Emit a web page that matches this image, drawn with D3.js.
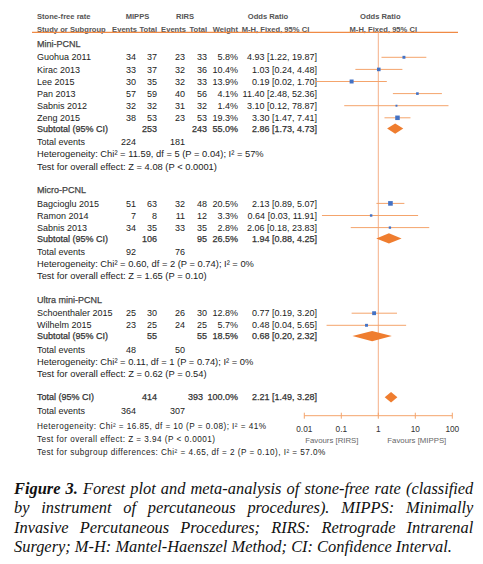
<!DOCTYPE html>
<html><head><meta charset="utf-8">
<script src="https://cdn.jsdelivr.net/npm/d3@7/dist/d3.min.js"></script>
<style>
html,body{margin:0;padding:0;background:#fff;}
svg{display:block;}
text{font-family:"Liberation Sans",Arial,sans-serif;}
text.cap{font-family:"Liberation Serif","Times New Roman",serif;font-style:italic;}
</style></head><body>
<svg id="chart" width="483" height="564"></svg>
<script>
// ---------- DATA ----------
const subgroupNames = ["Mini-PCNL", "Micro-PCNL", "Ultra mini-PCNL"];
const studyNames = ["Guohua 2011","Kirac 2013","Lee 2015","Pan 2013","Sabnis 2012","Zeng 2015",
                    "Bagcioglu 2015","Ramon 2014","Sabnis 2013",
                    "Schoenthaler 2015","Wilhelm 2015"];
const studyGroup   = [0,0,0,0,0,0, 1,1,1, 2,2];
const mippsEvents  = [34,33,30,57,32,38, 51,7,34, 25,23];
const mippsTotal   = [37,37,35,59,32,53, 63,8,35, 30,25];
const rirsEvents   = [23,32,32,40,31,23, 32,11,33, 26,24];
const rirsTotal    = [33,36,33,56,32,53, 48,12,35, 30,25];
const weights      = [5.8,10.4,13.9,4.1,1.4,19.3, 20.5,3.3,2.8, 12.8,5.7];
const orValues     = [4.93,1.03,0.19,11.40,3.10,3.30, 2.13,0.64,2.06, 0.77,0.48];
const ciLow        = [1.22,0.24,0.02,2.48,0.12,1.47, 0.89,0.03,0.18, 0.19,0.04];
const ciHigh       = [19.87,4.48,1.70,52.36,78.87,7.41, 5.07,11.91,23.83, 3.20,5.65];

const subMippsTotal  = [253,106,55];
const subRirsTotal   = [243,95,55];
const subWeight      = [55.0,26.5,18.5];
const subOR          = [2.86,1.94,0.68];
const subLow         = [1.73,0.88,0.20];
const subHigh        = [4.73,4.25,2.32];
const subEventsMipps = [224,92,48];
const subEventsRirs  = [181,76,50];
const subHet = ["Heterogeneity: Chi\u00b2 = 11.59, df = 5 (P = 0.04); I\u00b2 = 57%",
                "Heterogeneity: Chi\u00b2 = 0.60, df = 2 (P = 0.74); I\u00b2 = 0%",
                "Heterogeneity: Chi\u00b2 = 0.11, df = 1 (P = 0.74); I\u00b2 = 0%"];
const subTest = ["Test for overall effect: Z = 4.08 (P < 0.0001)",
                 "Test for overall effect: Z = 1.65 (P = 0.10)",
                 "Test for overall effect: Z = 0.62 (P = 0.54)"];

const totalMipps = 414, totalRirs = 393, totalWeight = 100.0;
const totalOR = 2.21, totalLow = 1.49, totalHigh = 3.28;
const totalEventsMipps = 364, totalEventsRirs = 307;
const footerTexts = ["Heterogeneity: Chi\u00b2 = 16.85, df = 10 (P = 0.08); I\u00b2 = 41%",
                     "Test for overall effect: Z = 3.94 (P < 0.0001)",
                     "Test for subgroup differences: Chi\u00b2 = 4.65, df = 2 (P = 0.10), I\u00b2 = 57.0%"];

const axisTicks = [0.01, 0.1, 1, 10, 100];
const axisTickLabels = ["0.01", "0.1", "1", "10", "100"];
const favoursLabels = ["Favours [RIRS]", "Favours [MIPPS]"];

const captionLines = [
  [{t:"Figure 3.", b:true}, {t:"Forest plot and meta-analysis of stone-free rate (classified"}],
  [{t:"by instrument of percutaneous procedures). MIPPS: Minimally"}],
  [{t:"Invasive Percutaneous Procedures; RIRS: Retrograde Intrarenal"}],
  [{t:"Surgery; M-H: Mantel-Haenszel Method; CI: Confidence Interval."}]
];

// ---------- LAYOUT ----------
const svg = d3.select("#chart");
const x = d3.scaleLog().domain([0.01, 100]).range([304.3, 452.3]);
const col = {label:37, mE:136, mT:157, rE:185, rT:207, w:238, or:317};
const fmt2 = d3.format(".2f");
const fmtW = d3.format(".1f");
const textCol = "#222", headCol = "#555", subCol = "#333";
const orange = "#ef7d2f", lineOrange = "#f4a46c", blue = "#4472c4";

const rows = [];
let y = 44;
subgroupNames.forEach((g, gi) => {
  rows.push({type:"heading", y, text:g});
  y += 13.3;
  const idx = studyNames.map((_, i) => i).filter(i => studyGroup[i] === gi);
  idx.forEach((i, k) => { rows.push({type:"study", y, i}); if (k < idx.length - 1) y += 12.1; });
  y += 10.8;
  rows.push({type:"subtotal", y, gi});
  y += 13.5;
  rows.push({type:"events", y, m:subEventsMipps[gi], r:subEventsRirs[gi]});
  y += 11.8;
  rows.push({type:"note", y, text:subHet[gi], size:9.35});
  y += 12.4;
  rows.push({type:"note", y, text:subTest[gi], size:9.35});
  y += 23.8;
});
y -= 0.3;
rows.push({type:"total", y});
y += 13.8;
rows.push({type:"events", y, m:totalEventsMipps, r:totalEventsRirs});
y += 15.3;
footerTexts.forEach(t => { rows.push({type:"foot", y, text:t}); y += 12.7; });

const yTop = 32.3, yAxis = 415.7;

// ---------- HEADER ----------
const hdr = svg.append("g").attr("font-size", 7.6).attr("font-weight", "bold").attr("fill", headCol);
function ht(tx, ty, s, anchor) {
  hdr.append("text").attr("x", tx).attr("y", ty).attr("dy", "0.35em").attr("text-anchor", anchor).text(s);
}
ht(col.label, 16.7, "Stone-free rate", "start");
ht((col.mE + col.mT) / 2 - 9, 16.7, "MIPPS", "middle");
ht((col.rE + col.rT) / 2 - 11, 16.7, "RIRS", "middle");
ht(268, 16.7, "Odds Ratio", "middle");
ht(x(1) + 2, 16.7, "Odds Ratio", "middle");
ht(col.label, 29, "Study or Subgroup", "start");
ht(col.mE + 1, 29, "Events", "end");
ht(col.mT, 29, "Total", "end");
ht(col.rE + 1, 29, "Events", "end");
ht(col.rT, 29, "Total", "end");
ht(col.w, 29, "Weight", "end");
ht(275.5, 29, "M-H, Fixed, 95% CI", "middle");
ht(x(1) + 5, 29, "M-H, Fixed, 95% CI", "middle");

svg.append("line").attr("x1", 32).attr("x2", 458).attr("y1", yTop).attr("y2", yTop)
  .attr("stroke", "#f08a45").attr("stroke-width", 1.2);

// ---------- NULL LINE & AXIS ----------
svg.append("line").attr("x1", x(1)).attr("x2", x(1)).attr("y1", yTop).attr("y2", yAxis)
  .attr("stroke", "#f6b088").attr("stroke-width", 1);

const axisG = svg.append("g").attr("transform", `translate(0,${yAxis})`);
axisG.append("line").attr("x1", x(0.01)).attr("x2", x(100)).attr("stroke", lineOrange).attr("stroke-width", 1);
axisG.selectAll(".tk").data(axisTicks).join("line")
  .attr("x1", d => x(d)).attr("x2", d => x(d)).attr("y1", -3).attr("y2", 3)
  .attr("stroke", lineOrange).attr("stroke-width", 1);
axisG.selectAll(".tl").data(axisTicks).join("text")
  .attr("x", d => x(d)).attr("y", 13.6).attr("dy", "0.35em").attr("text-anchor", "middle")
  .attr("font-size", 8.3).attr("fill", "#333").text((d, i) => axisTickLabels[i]);
axisG.append("text").attr("x", (x(0.01) + x(1)) / 2 - 9.5).attr("y", 24.3).attr("dy", "0.35em")
  .attr("text-anchor", "middle").attr("font-size", 7.8).attr("fill", "#666").text(favoursLabels[0]);
axisG.append("text").attr("x", (x(1) + x(100)) / 2 + 1.5).attr("y", 24.3).attr("dy", "0.35em")
  .attr("text-anchor", "middle").attr("font-size", 7.8).attr("fill", "#666").text(favoursLabels[1]);

// ---------- ROWS ----------
const body = svg.append("g");
function tx(xx, yy, s, anchor, opts = {}) {
  const t = body.append("text").attr("x", xx).attr("y", yy).attr("dy", "0.35em")
    .attr("text-anchor", anchor).attr("font-size", opts.size || 9)
    .attr("fill", opts.fill || textCol).text(s);
  if (opts.semi) t.attr("stroke", opts.fill || textCol).attr("stroke-width", 0.25);
  return t;
}
function diamond(yy, or, lo, hi) {
  const p = d3.path();
  p.moveTo(x(lo), yy); p.lineTo(x(or), yy - 5.2); p.lineTo(x(hi), yy); p.lineTo(x(or), yy + 5.2); p.closePath();
  body.append("path").attr("d", p.toString()).attr("fill", orange);
}
const sub = {semi:true, fill:subCol};

rows.forEach(r => {
  if (r.type === "heading") {
    tx(col.label, r.y, r.text, "start", {semi:true, fill:"#444"});
  } else if (r.type === "study") {
    const i = r.i;
    tx(col.label, r.y, studyNames[i], "start");
    tx(col.mE, r.y, mippsEvents[i], "end");
    tx(col.mT, r.y, mippsTotal[i], "end");
    tx(col.rE, r.y, rirsEvents[i], "end");
    tx(col.rT, r.y, rirsTotal[i], "end");
    tx(col.w, r.y, fmtW(weights[i]) + "%", "end");
    tx(col.or, r.y, `${fmt2(orValues[i])} [${fmt2(ciLow[i])}, ${fmt2(ciHigh[i])}]`, "end");
    body.append("line").attr("x1", x(ciLow[i])).attr("x2", x(ciHigh[i]))
      .attr("y1", r.y).attr("y2", r.y).attr("stroke", lineOrange).attr("stroke-width", 1);
    const s = 1 + Math.sqrt(weights[i]) * 0.8;
    body.append("rect").attr("x", x(orValues[i]) - s / 2).attr("y", r.y - s / 2)
      .attr("width", s).attr("height", s).attr("fill", blue);
  } else if (r.type === "subtotal") {
    const g = r.gi;
    tx(col.label, r.y, "Subtotal (95% CI)", "start", sub);
    tx(col.mT, r.y, subMippsTotal[g], "end", sub);
    tx(col.rT, r.y, subRirsTotal[g], "end", sub);
    tx(col.w, r.y, fmtW(subWeight[g]) + "%", "end", sub);
    tx(col.or, r.y, `${fmt2(subOR[g])} [${fmt2(subLow[g])}, ${fmt2(subHigh[g])}]`, "end", sub);
    diamond(r.y, subOR[g], subLow[g], subHigh[g]);
  } else if (r.type === "events") {
    tx(col.label, r.y, "Total events", "start");
    tx(col.mE, r.y, r.m, "end");
    tx(col.rE, r.y, r.r, "end");
  } else if (r.type === "note") {
    tx(col.label, r.y, r.text, "start", {size:r.size});
  } else if (r.type === "total") {
    tx(col.label, r.y, "Total (95% CI)", "start", sub);
    tx(col.mT, r.y, totalMipps, "end", sub);
    tx(col.rT - 4, r.y, totalRirs, "end", sub);
    tx(col.w, r.y, fmtW(totalWeight) + "%", "end", sub);
    tx(col.or, r.y, `${fmt2(totalOR)} [${fmt2(totalLow)}, ${fmt2(totalHigh)}]`, "end", sub);
    diamond(r.y, totalOR, totalLow, totalHigh);
  } else if (r.type === "foot") {
    tx(col.label, r.y, r.text, "start", {size:8.2}).attr("letter-spacing", 0.45);
  }
});

// ---------- CAPTION (justified) ----------
const cap = svg.append("g").attr("font-size", 16.4).attr("fill", "#111");
const capLeft = 14, capRight = 473.3, capY0 = 488.3, capStep = 19.45;
const probe = cap.append("text").attr("class", "cap").text("a a");
const probe2 = cap.append("text").attr("class", "cap").text("aa");
const spaceW = probe.node().getComputedTextLength() - probe2.node().getComputedTextLength();
probe.remove(); probe2.remove();
captionLines.forEach((segs, li) => {
  const words = [];
  segs.forEach(sg => sg.t.split(" ").forEach(w => words.push({w, b:!!sg.b})));
  const els = words.map(wd => cap.append("text").attr("class", "cap")
    .attr("y", capY0 + li * capStep).attr("dy", "0.35em")
    .attr("font-weight", wd.b ? "bold" : "normal").text(wd.w));
  const widths = els.map(e => e.node().getComputedTextLength());
  const sum = d3.sum(widths);
  const last = li === captionLines.length - 1;
  const gap = last ? spaceW : (capRight - capLeft - sum) / (els.length - 1);
  let cx = capLeft;
  els.forEach((e, k) => { e.attr("x", cx); cx += widths[k] + gap; });
});
</script>
</body></html>
